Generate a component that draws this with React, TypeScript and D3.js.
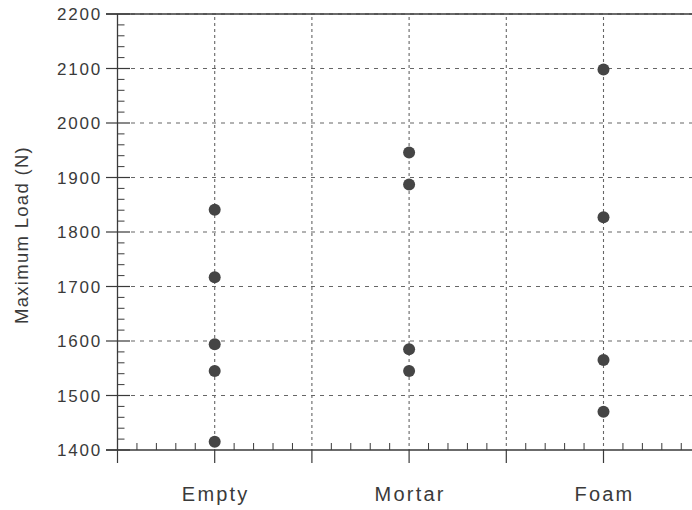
import { useEffect, useRef } from 'react';
import * as d3 from 'd3';

const categories = ['Empty', 'Mortar', 'Foam'];
const categoryPos = [1, 3, 5];
const emptyLoads = [1841, 1717, 1594, 1545, 1415];
const mortarLoads = [1946, 1887, 1585, 1545];
const foamLoads = [2098, 1827, 1565, 1470];
const yTicks = [1400, 1500, 1600, 1700, 1800, 1900, 2000, 2100, 2200];

export default function App() {
  const svgRef = useRef<SVGSVGElement>(null);

  useEffect(() => {
    const W = 692;
    const H = 510;
    const svg = d3.select(svgRef.current).attr('width', W).attr('height', H);
    svg.selectAll('*').remove();

    const x = d3.scaleLinear().domain([0, 6]).range([117.5, 700.7]);
    const y = d3.scaleLinear().domain([1400, 2200]).range([450, 14]);
    const ink = '#3a3a3a';
    const grid = '#666';
    const font = 'Liberation Sans, Arial, Helvetica, sans-serif';

    // horizontal dashed grid
    svg.append('g').selectAll('line').data(yTicks.slice(1)).enter().append('line')
      .attr('x1', 131).attr('x2', W)
      .attr('y1', d => y(d)).attr('y2', d => y(d))
      .attr('stroke', grid).attr('stroke-width', 1.1).attr('stroke-dasharray', '4,5');

    // vertical dotted grid at every unit
    const xMajor = d3.range(1, 7);
    svg.append('g').selectAll('line').data(xMajor).enter().append('line')
      .attr('x1', d => x(d)).attr('x2', d => x(d))
      .attr('y1', y(2200) + 3).attr('y2', y(1400))
      .attr('stroke', grid).attr('stroke-width', 1.1).attr('stroke-dasharray', '3,3');

    // axes lines
    svg.append('line').attr('x1', x(0)).attr('x2', x(0)).attr('y1', y(2200)).attr('y2', y(1400))
      .attr('stroke', ink).attr('stroke-width', 1.3);
    svg.append('line').attr('x1', 106).attr('x2', W).attr('y1', y(1400)).attr('y2', y(1400))
      .attr('stroke', ink).attr('stroke-width', 1.3);
    svg.append('line').attr('x1', 106).attr('x2', W).attr('y1', y(2200)).attr('y2', y(2200))
      .attr('stroke', ink).attr('stroke-width', 1.3);

    // y ticks
    svg.append('g').selectAll('line').data(yTicks).enter().append('line')
      .attr('x1', 106).attr('x2', 130)
      .attr('y1', d => y(d)).attr('y2', d => y(d))
      .attr('stroke', ink).attr('stroke-width', 1.2);
    const yMinor = d3.range(1400, 2200, 20).filter(v => v % 100 !== 0);
    svg.append('g').selectAll('line').data(yMinor).enter().append('line')
      .attr('x1', x(0)).attr('x2', x(0) + 7)
      .attr('y1', d => y(d)).attr('y2', d => y(d))
      .attr('stroke', ink).attr('stroke-width', 1);

    // x ticks
    svg.append('g').selectAll('line').data(d3.range(0, 7)).enter().append('line')
      .attr('x1', d => x(d)).attr('x2', d => x(d))
      .attr('y1', y(1400)).attr('y2', y(1400) + 13)
      .attr('stroke', ink).attr('stroke-width', 1.2);
    const xMinor = d3.range(0, 30).map(i => i * 0.2).filter(v => Math.abs(v - Math.round(v)) > 0.01);
    svg.append('g').selectAll('line').data(xMinor).enter().append('line')
      .attr('x1', d => x(d)).attr('x2', d => x(d))
      .attr('y1', y(1400)).attr('y2', y(1400) - 7)
      .attr('stroke', ink).attr('stroke-width', 1);

    // y tick labels
    svg.append('g').selectAll('text').data(yTicks).enter().append('text')
      .attr('x', 102).attr('y', d => y(d)).attr('dy', '0.36em')
      .attr('text-anchor', 'end').attr('font-family', font).attr('font-size', 17)
      .attr('letter-spacing', 1.8).attr('fill', ink)
      .text(d => d);

    // x category labels
    svg.append('g').selectAll('text').data(categories).enter().append('text')
      .attr('x', (d, i) => x(categoryPos[i]) + 1).attr('y', 501)
      .attr('text-anchor', 'middle').attr('font-family', font).attr('font-size', 20)
      .attr('letter-spacing', 2.2).attr('fill', ink)
      .text(d => d);

    // axis title
    svg.append('text')
      .attr('transform', `translate(28,${(y(1400) + y(2200)) / 2 + 3}) rotate(-90)`)
      .attr('text-anchor', 'middle').attr('font-family', font).attr('font-size', 18.5)
      .attr('letter-spacing', 1.3).attr('fill', ink)
      .text('Maximum Load (N)');

    // points
    const series = [emptyLoads, mortarLoads, foamLoads];
    const pts = series.flatMap((vals, i) => vals.map(v => ({ c: categoryPos[i], v })));
    svg.append('g').selectAll('circle').data(pts).enter().append('circle')
      .attr('cx', d => x(d.c)).attr('cy', d => y(d.v)).attr('r', 6)
      .attr('fill', '#454545');
  }, []);

  return (
    <div style={{ position: 'fixed', left: 0, top: 0, width: 692, height: 510, overflow: 'hidden', background: '#fff' }}>
      <svg ref={svgRef} style={{ display: 'block' }} />
    </div>
  );
}
